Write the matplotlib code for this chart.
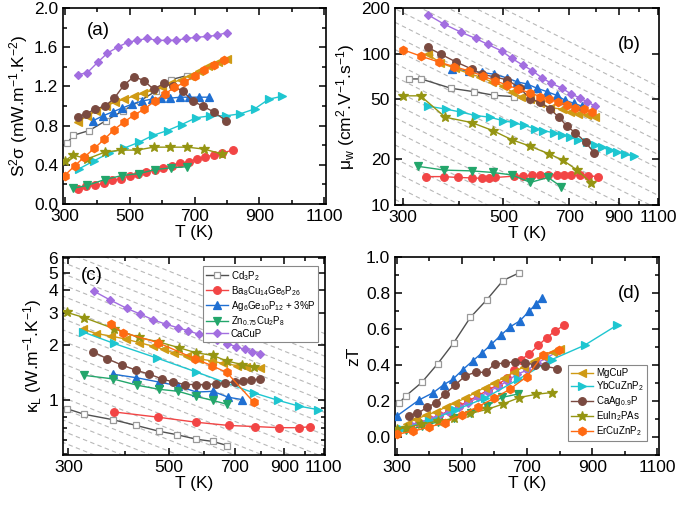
import numpy as np
import matplotlib
matplotlib.use('Agg')
import matplotlib.pyplot as plt
from matplotlib.ticker import FixedLocator, FixedFormatter, NullFormatter, MultipleLocator

plt.rcParams['font.family'] = ['Liberation Sans', 'DejaVu Sans']
plt.rcParams['mathtext.fontset'] = 'custom'
plt.rcParams['mathtext.rm'] = 'Liberation Sans'
plt.rcParams['mathtext.it'] = 'Liberation Sans:italic'
plt.rcParams['mathtext.default'] = 'regular'

# ---------------- data ----------------
names = ['Cd3P2', 'Ba8', 'Ag6', 'Zn', 'CaCuP', 'MgCuP', 'YbCuZnP2', 'CaAg', 'EuIn2PAs', 'ErCuZnP2']
labels = ['Cd$_3$P$_2$', 'Ba$_8$Cu$_{14}$Ge$_6$P$_{26}$', 'Ag$_6$Ge$_{10}$P$_{12}$ + 3%P',
          'Zn$_{0.75}$Cu$_2$P$_8$', 'CaCuP', 'MgCuP', 'YbCuZnP$_2$', 'CaAg$_{0.9}$P',
          'EuIn$_2$PAs', 'ErCuZnP$_2$']

# (a) power factor S^2 sigma (mW m-1 K-2)
a_T_Cd = [308, 326, 376, 427, 479, 531, 580, 629, 676]
a_Cd = [0.62, 0.70, 0.75, 0.85, 0.95, 1.05, 1.15, 1.27, 1.31]
a_T_Ba = [341, 367, 394, 420, 446, 474, 500, 526, 552, 578, 604, 630, 656, 682, 707, 733, 759, 785, 818]
a_Ba = [0.15, 0.18, 0.19, 0.21, 0.24, 0.26, 0.29, 0.31, 0.33, 0.35, 0.37, 0.39, 0.42, 0.43, 0.46, 0.48, 0.50, 0.52, 0.55]
a_T_Ag = [388, 418, 448, 478, 508, 538, 568, 597, 626, 655, 684, 713, 744]
a_Ag = [0.85, 0.90, 0.94, 0.98, 1.02, 1.05, 1.07, 1.08, 1.08, 1.09, 1.09, 1.09, 1.09]
a_T_Zn = [326, 370, 424, 476, 529, 577, 629, 676]
a_Zn = [0.16, 0.19, 0.25, 0.29, 0.31, 0.35, 0.37, 0.38]
a_T_CaCuP = [341, 370, 403, 432, 463, 494, 524, 555, 584, 615, 644, 675, 706, 737, 768, 800]
a_CaCuP = [1.32, 1.34, 1.45, 1.54, 1.60, 1.65, 1.67, 1.69, 1.67, 1.67, 1.67, 1.69, 1.70, 1.71, 1.72, 1.75]
a_T_Mg = [341, 370, 398, 427, 456, 484, 513, 542, 570, 599, 628, 657, 685, 714, 743, 771, 800]
a_Mg = [0.84, 0.90, 0.95, 1.00, 1.04, 1.07, 1.10, 1.13, 1.16, 1.19, 1.23, 1.27, 1.31, 1.36, 1.41, 1.45, 1.48]
a_T_Yb = [345, 390, 437, 483, 529, 572, 617, 660, 705, 749, 797, 841, 885, 929, 971]
a_Yb = [0.36, 0.44, 0.52, 0.57, 0.63, 0.70, 0.75, 0.81, 0.88, 0.90, 0.90, 0.92, 0.97, 1.07, 1.10]
a_T_CaAg = [340, 367, 394, 425, 453, 482, 513, 544, 574, 605, 635, 665, 694, 725, 759, 797]
a_CaAg = [0.89, 0.92, 0.97, 1.00, 1.08, 1.21, 1.30, 1.26, 1.17, 1.23, 1.20, 1.15, 1.05, 1.00, 0.94, 0.85]
a_T_Eu = [301, 326, 370, 424, 474, 523, 574, 626, 678, 730, 785]
a_Eu = [0.44, 0.50, 0.46, 0.53, 0.55, 0.55, 0.58, 0.58, 0.58, 0.56, 0.51]
a_T_Er = [300, 331, 361, 392, 422, 453, 484, 515, 546, 577, 608, 638, 669, 700, 730, 761, 790]
a_Er = [0.29, 0.39, 0.48, 0.57, 0.66, 0.76, 0.84, 0.91, 0.97, 1.05, 1.12, 1.19, 1.24, 1.31, 1.37, 1.42, 1.47]

# (b) weighted mobility (cm2 V-1 s-1)
b_T_Cd = [309, 329, 383, 431, 478, 527]
b_Cd = [68, 68, 59, 56, 53, 52]
b_T_Ba = [338, 369, 396, 426, 448, 465, 480, 527, 552, 578, 604, 628, 656, 680, 705, 740, 770, 808]
b_Ba = [15.4, 15.4, 15.2, 15.1, 15.0, 15.0, 15.2, 15.5, 15.6, 15.7, 15.7, 15.8, 15.9, 15.8, 15.7, 15.7, 15.6, 15.4]
b_T_Ag = [385, 419, 449, 478, 510, 537, 564, 594, 625, 656, 686, 716, 745]
b_Ag = [79, 77, 75, 73, 69, 65, 63, 59, 56, 53, 49, 47, 45]
b_T_Zn = [324, 370, 426, 474, 522, 574, 628, 672]
b_Zn = [18, 17, 16.8, 16.4, 15.8, 14.1, 15.2, 13.2]
b_T_CaCuP = [340, 369, 404, 434, 462, 496, 522, 552, 580, 609, 637, 674, 707, 738, 766, 799]
b_CaCuP = [181, 157, 138, 126, 115, 104, 93, 84, 77, 69, 64, 59, 54, 51, 48, 45]
b_T_Mg = [340, 363, 390, 419, 445, 472, 500, 522, 546, 574, 604, 634, 674, 703, 732, 766, 799]
b_Mg = [99, 87, 80, 74, 70, 65, 61, 56, 52, 50, 47, 44, 43, 41, 40, 39.5, 38]
b_T_Yb = [340, 373, 404, 434, 467, 500, 528, 556, 588, 613, 646, 674, 703, 730, 766, 797, 827, 862, 892, 931, 971]
b_Yb = [45, 43, 41, 39, 38, 36, 35, 33.5, 32, 31, 30, 29, 28, 27, 26, 25, 24, 23, 22.5, 21.7, 21]
b_T_CaAg = [340, 364, 393, 426, 449, 480, 510, 545, 574, 603, 634, 664, 692, 722, 760, 795]
b_CaAg = [110, 99, 88, 79, 73, 70, 67, 59, 50, 48, 43, 38, 33, 30, 26, 22]
b_T_Eu = [300, 328, 372, 426, 474, 522, 574, 632, 677, 728, 782]
b_Eu = [52.6, 52.6, 38, 35, 31, 27, 24.4, 21.7, 19.8, 17, 14]
b_T_Er = [300, 329, 360, 389, 419, 452, 480, 510, 540, 574, 603, 632, 660, 692, 722, 753, 785]
b_Er = [106, 96, 88, 82, 77, 71, 66, 62, 58, 55, 52, 50, 48, 46, 44, 43, 41]

# (c) lattice thermal conductivity (W m-1 K-1)
c_T_Cd = [298, 325, 376, 424, 475, 522, 575, 626, 674]
c_Cd = [0.89, 0.83, 0.775, 0.72, 0.67, 0.64, 0.605, 0.588, 0.558]
c_T_Ba = [378, 473, 575, 679, 777, 877, 971, 1025]
c_Ba = [0.855, 0.80, 0.75, 0.72, 0.71, 0.70, 0.70, 0.708]
c_T_Ag = [376, 424, 475, 525, 575, 626, 677, 726]
c_Ag = [1.38, 1.32, 1.25, 1.19, 1.10, 1.11, 1.03, 1.00]
c_T_Zn = [325, 376, 426, 475, 525, 575, 626, 674]
c_Zn = [1.36, 1.30, 1.20, 1.14, 1.11, 1.04, 0.99, 0.94]
c_T_CaCuP = [342, 370, 404, 432, 462, 493, 523, 553, 583, 611, 641, 673, 704, 736, 766, 796]
c_CaCuP = [3.95, 3.55, 3.18, 2.96, 2.75, 2.60, 2.49, 2.39, 2.29, 2.20, 2.13, 2.03, 1.96, 1.89, 1.83, 1.79]
c_T_Mg = [324, 346, 372, 403, 430, 461, 488, 514, 549, 583, 624, 660, 708, 742, 796]
c_Mg = [2.44, 2.31, 2.24, 2.15, 2.06, 1.97, 1.89, 1.80, 1.74, 1.68, 1.63, 1.58, 1.54, 1.51, 1.50]
c_T_Yb = [323, 378, 472, 575, 770, 873, 971, 1069]
c_Yb = [2.36, 2.04, 1.69, 1.42, 1.09, 0.99, 0.92, 0.88]
c_T_CaAg = [341, 365, 394, 424, 453, 483, 511, 543, 574, 604, 636, 667, 700, 730, 762, 796]
c_CaAg = [1.83, 1.68, 1.55, 1.45, 1.38, 1.30, 1.25, 1.21, 1.21, 1.21, 1.22, 1.24, 1.25, 1.27, 1.28, 1.30]
c_T_Eu = [298, 325, 378, 429, 475, 527, 575, 626, 673, 726, 770]
c_Eu = [3.02, 2.83, 2.46, 2.20, 2.08, 1.93, 1.81, 1.75, 1.63, 1.56, 1.51]
c_T_Er = [372, 396, 473, 571, 622, 672, 770]
c_Er = [2.60, 2.34, 2.06, 1.68, 1.54, 1.41, 0.97]

# (d) zT
d_T_Cd = [307, 328, 377, 426, 475, 526, 577, 626, 676]
d_Cd = [0.187, 0.228, 0.303, 0.407, 0.523, 0.664, 0.763, 0.869, 0.912]
d_T_Ba = [340, 370, 400, 430, 460, 490, 520, 550, 580, 610, 640, 660, 681, 707, 735, 760, 786, 814]
d_Ba = [0.06, 0.08, 0.10, 0.12, 0.145, 0.17, 0.20, 0.23, 0.26, 0.29, 0.33, 0.37, 0.43, 0.46, 0.51, 0.55, 0.59, 0.62]
d_T_Ag = [300, 369, 413, 444, 472, 503, 534, 562, 590, 619, 649, 678, 707, 728, 745]
d_Ag = [0.116, 0.206, 0.247, 0.29, 0.32, 0.374, 0.424, 0.467, 0.514, 0.564, 0.613, 0.645, 0.70, 0.74, 0.77]
d_T_Zn = [328, 379, 426, 477, 529, 577, 623, 673]
d_Zn = [0.037, 0.06, 0.084, 0.103, 0.131, 0.172, 0.22, 0.239]
d_T_CaCuP = [340, 370, 400, 430, 460, 490, 520, 550, 580, 610, 640, 670, 700, 730, 760, 790]
d_CaCuP = [0.07, 0.08, 0.10, 0.12, 0.14, 0.165, 0.19, 0.22, 0.25, 0.28, 0.31, 0.35, 0.37, 0.41, 0.44, 0.47]
d_T_Mg = [331, 360, 390, 420, 450, 480, 510, 540, 570, 600, 630, 660, 690, 720, 750, 780, 800]
d_Mg = [0.075, 0.10, 0.12, 0.14, 0.165, 0.19, 0.215, 0.245, 0.275, 0.30, 0.33, 0.36, 0.39, 0.42, 0.45, 0.47, 0.49]
d_T_Yb = [315, 400, 480, 570, 673, 776, 877, 975]
d_Yb = [0.045, 0.09, 0.15, 0.215, 0.32, 0.43, 0.51, 0.62]
d_T_CaAg = [338, 364, 393, 420, 449, 480, 511, 542, 573, 601, 632, 663, 693, 724, 755, 793]
d_CaAg = [0.118, 0.131, 0.164, 0.19, 0.24, 0.29, 0.34, 0.36, 0.359, 0.407, 0.41, 0.419, 0.411, 0.402, 0.393, 0.38]
d_T_Eu = [300, 328, 374, 426, 475, 526, 577, 626, 676, 727, 776]
d_Eu = [0.047, 0.05, 0.071, 0.088, 0.103, 0.131, 0.153, 0.183, 0.219, 0.237, 0.247]
d_T_Er = [300, 351, 400, 449, 500, 549, 599, 647, 700, 750, 798]
d_Er = [0.015, 0.032, 0.056, 0.08, 0.125, 0.168, 0.215, 0.265, 0.336, 0.458, 0.486]

# ---------------- styles ----------------
styles = {
    'Cd3P2': dict(color='#505050', marker='s', mfc='white', mec='#999999', ms=5),
    'Ba8': dict(color='#f24545', marker='o', mfc='#f24545', mec='#f24545', ms=5.5),
    'Ag6': dict(color='#1f6fd2', marker='^', mfc='#1f6fd2', mec='#1f6fd2', ms=6),
    'Zn': dict(color='#23a66b', marker='v', mfc='#23a66b', mec='#23a66b', ms=6),
    'CaCuP': dict(color='#a26ee0', marker='D', mfc='#a26ee0', mec='#a26ee0', ms=4.5),
    'MgCuP': dict(color='#cf9a14', marker='<', mfc='#cf9a14', mec='#cf9a14', ms=6),
    'YbCuZnP2': dict(color='#1ec6d0', marker='>', mfc='#1ec6d0', mec='#1ec6d0', ms=6),
    'CaAg': dict(color='#7a4a40', marker='o', mfc='#7a4a40', mec='#7a4a40', ms=5.5),
    'EuIn2PAs': dict(color='#959512', marker='*', mfc='#959512', mec='#959512', ms=7),
    'ErCuZnP2': dict(color='#ff6a12', marker='h', mfc='#ff6a12', mec='#ff6a12', ms=6),
}

panels = {
    'a': [(a_T_Cd, a_Cd), (a_T_Ba, a_Ba), (a_T_Ag, a_Ag), (a_T_Zn, a_Zn), (a_T_CaCuP, a_CaCuP),
          (a_T_Mg, a_Mg), (a_T_Yb, a_Yb), (a_T_CaAg, a_CaAg), (a_T_Eu, a_Eu), (a_T_Er, a_Er)],
    'b': [(b_T_Cd, b_Cd), (b_T_Ba, b_Ba), (b_T_Ag, b_Ag), (b_T_Zn, b_Zn), (b_T_CaCuP, b_CaCuP),
          (b_T_Mg, b_Mg), (b_T_Yb, b_Yb), (b_T_CaAg, b_CaAg), (b_T_Eu, b_Eu), (b_T_Er, b_Er)],
    'c': [(c_T_Cd, c_Cd), (c_T_Ba, c_Ba), (c_T_Ag, c_Ag), (c_T_Zn, c_Zn), (c_T_CaCuP, c_CaCuP),
          (c_T_Mg, c_Mg), (c_T_Yb, c_Yb), (c_T_CaAg, c_CaAg), (c_T_Eu, c_Eu), (c_T_Er, c_Er)],
    'd': [(d_T_Cd, d_Cd), (d_T_Ba, d_Ba), (d_T_Ag, d_Ag), (d_T_Zn, d_Zn), (d_T_CaCuP, d_CaCuP),
          (d_T_Mg, d_Mg), (d_T_Yb, d_Yb), (d_T_CaAg, d_CaAg), (d_T_Eu, d_Eu), (d_T_Er, d_Er)],
}

FS = 12.5
fig = plt.figure(figsize=(6.8, 5.07), dpi=100)
W, H = 680, 507


def make_ax(l, r, t, b):
    return fig.add_axes([l / W, 1 - b / H, (r - l) / W, (b - t) / H])


axa = make_ax(63, 326, 8, 204)
axb = make_ax(395, 659, 8, 205)
axc = make_ax(63, 325, 257, 455)
axd = make_ax(395, 659, 257, 455)


def style_ax(ax):
    for s in ax.spines.values():
        s.set_linewidth(1.2)
    ax.tick_params(which='both', direction='in', top=True, right=True, labelsize=FS, width=1.1)
    ax.tick_params(which='major', length=5)
    ax.tick_params(which='minor', length=3)


def plot_series(ax, key):
    handles = []
    for name, lab, (T, v) in zip(names, labels, panels[key]):
        st = styles[name]
        h, = ax.plot(T, v, '-', lw=1.0, color=st['color'], marker=st['marker'], ms=st['ms'],
                     mfc=st['mfc'], mec=st['mec'], mew=0.9, label=lab, zorder=3)
        handles.append(h)
    return handles


def guides(ax, slope, step, kmin, kmax, ref):
    Tg = np.geomspace(250, 1300, 50)
    for k in range(kmin, kmax):
        c = ref * 10 ** (k * step)
        ax.plot(Tg, c * (Tg / 300.0) ** slope, ls=(0, (4, 3)), color='#b8b8b8', lw=0.8, zorder=1)


xt = [300, 500, 700, 900, 1100]
xminor = [400, 600, 800, 1000]
leg_kw = dict(fontsize=7, frameon=True, fancybox=False, edgecolor='#888888', framealpha=1,
              handlelength=2.3, handletextpad=0.3, labelspacing=0.12, borderpad=0.3,
              borderaxespad=0)

# (a)
plot_series(axa, 'a')
axa.set_xlim(295, 1105)
axa.set_ylim(0, 2.0)
axa.xaxis.set_major_locator(FixedLocator(xt))
axa.xaxis.set_minor_locator(FixedLocator(xminor))
axa.yaxis.set_major_locator(MultipleLocator(0.4))
axa.yaxis.set_minor_locator(MultipleLocator(0.2))
axa.yaxis.set_major_formatter(matplotlib.ticker.FormatStrFormatter('%.1f'))
style_ax(axa)
axa.set_xlabel('T (K)', fontsize=FS, labelpad=1)
axa.set_ylabel('S$^2$σ (mW.m$^{-1}$.K$^{-2}$)', fontsize=FS, labelpad=3)
axa.text(0.09, 0.93, '(a)', transform=axa.transAxes, fontsize=13.5, va='top', ha='left')

# (b)
guides(axb, -1.5, 0.09, -14, 8, 100)
plot_series(axb, 'b')
axb.set_xscale('log')
axb.set_yscale('log')
axb.set_xlim(288, 1105)
axb.set_ylim(10, 200)
axb.xaxis.set_major_locator(FixedLocator(xt))
axb.xaxis.set_major_formatter(FixedFormatter([str(v) for v in xt]))
axb.xaxis.set_minor_locator(FixedLocator(xminor))
axb.xaxis.set_minor_formatter(NullFormatter())
axb.yaxis.set_major_locator(FixedLocator([10, 20, 50, 100, 200]))
axb.yaxis.set_major_formatter(FixedFormatter(['10', '20', '50', '100', '200']))
axb.yaxis.set_minor_locator(FixedLocator([]))
style_ax(axb)
axb.set_xlabel('T (K)', fontsize=FS, labelpad=1)
axb.set_ylabel('μ$_w$ (cm$^2$.V$^{-1}$.s$^{-1}$)', fontsize=FS, labelpad=3)
axb.text(0.93, 0.86, '(b)', transform=axb.transAxes, fontsize=13.5, va='top', ha='right')

# (c)
guides(axc, -1.0, 0.062, -18, 16, 1.0)
hc = plot_series(axc, 'c')
axc.set_xscale('log')
axc.set_yscale('log')
axc.set_xlim(292, 1108)
axc.set_ylim(0.495, 6.1)
axc.xaxis.set_major_locator(FixedLocator(xt))
axc.xaxis.set_major_formatter(FixedFormatter([str(v) for v in xt]))
axc.xaxis.set_minor_locator(FixedLocator(xminor))
axc.xaxis.set_minor_formatter(NullFormatter())
axc.yaxis.set_major_locator(FixedLocator([1, 2, 3, 4, 5, 6]))
axc.yaxis.set_major_formatter(FixedFormatter(['1', '2', '3', '4', '5', '6']))
axc.yaxis.set_minor_locator(FixedLocator([0.5, 0.6, 0.7, 0.8, 0.9]))
axc.yaxis.set_minor_formatter(NullFormatter())
style_ax(axc)
axc.set_xlabel('T (K)', fontsize=FS, labelpad=1)
axc.set_ylabel('κ$_L$ (W.m$^{-1}$.K$^{-1}$)', fontsize=FS, labelpad=3)
axc.text(0.07, 0.95, '(c)', transform=axc.transAxes, fontsize=13.5, va='top', ha='left')
legc = axc.legend(handles=hc[:5], loc='upper right', bbox_to_anchor=(0.975, 0.955), **leg_kw)
legc.get_frame().set_linewidth(0.8)

# (d)
hd = plot_series(axd, 'd')
axd.set_xlim(295, 1105)
axd.set_ylim(-0.1, 1.0)
axd.xaxis.set_major_locator(FixedLocator(xt))
axd.xaxis.set_minor_locator(FixedLocator(xminor))
axd.yaxis.set_major_locator(FixedLocator([0, 0.2, 0.4, 0.6, 0.8, 1.0]))
axd.yaxis.set_minor_locator(FixedLocator([-0.1, 0.1, 0.3, 0.5, 0.7, 0.9]))
axd.yaxis.set_major_formatter(matplotlib.ticker.FormatStrFormatter('%.1f'))
style_ax(axd)
axd.set_xlabel('T (K)', fontsize=FS, labelpad=1)
axd.set_ylabel('zT', fontsize=FS, labelpad=3)
axd.text(0.93, 0.86, '(d)', transform=axd.transAxes, fontsize=13.5, va='top', ha='right')
legd = axd.legend(handles=hd[5:], loc='lower right', bbox_to_anchor=(0.955, 0.07), **leg_kw)
legd.get_frame().set_linewidth(0.8)

fig.savefig('out.png', dpi=100)
